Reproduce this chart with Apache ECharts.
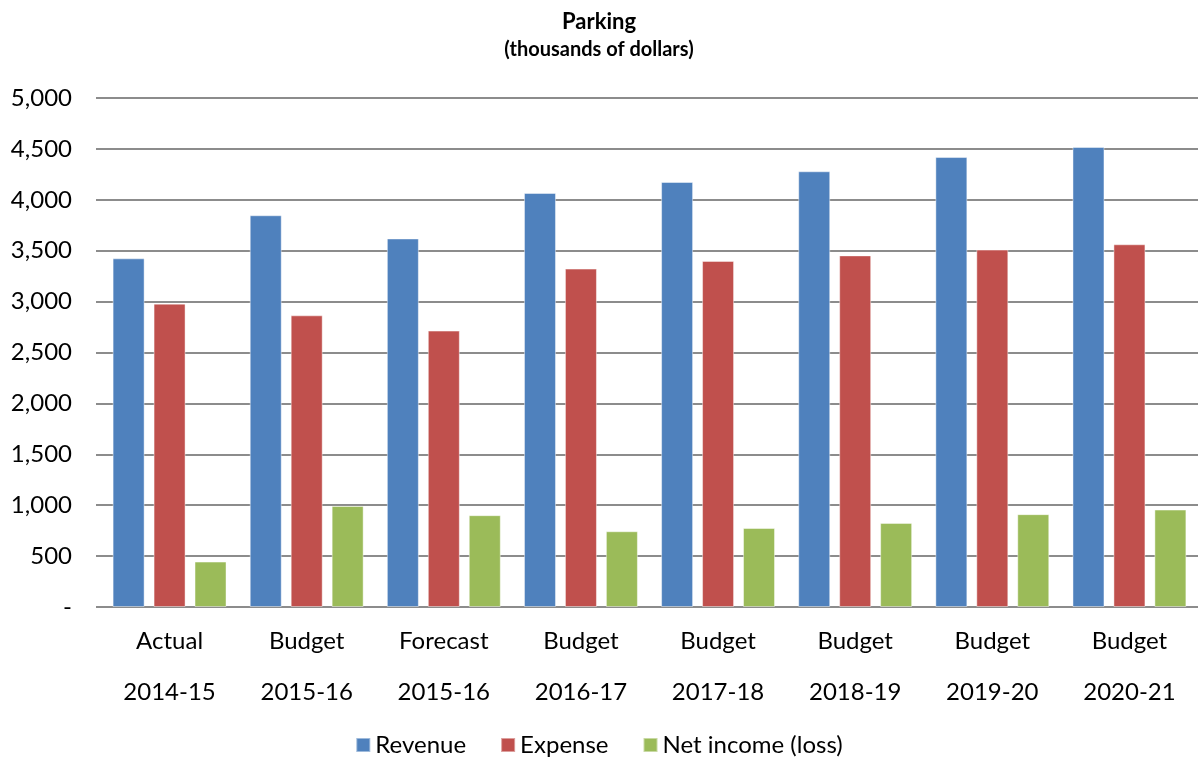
<!doctype html>
<html lang="en">
<head>
	<meta charset="UTF-8">
	<title>Parking</title>
	<style>
		html, body { margin: 0; padding: 0; background: #fff; }
		#chart { width: 1198px; height: 759px; }
	</style>
</head>
<body>
<div id="chart"></div>
<script src="https://cdn.jsdelivr.net/npm/echarts@6/dist/echarts.min.js"></script>
<script>
	// data (thousands of dollars)
	var kinds = ['Actual', 'Budget', 'Forecast', 'Budget', 'Budget', 'Budget', 'Budget', 'Budget'];
	var years = ['2014-15', '2015-16', '2015-16', '2016-17', '2017-18', '2018-19', '2019-20', '2020-21'];
	var revenue = [3425, 3848, 3620, 4067, 4175, 4280, 4420, 4519];
	var expense = [2980, 2865, 2715, 3324, 3400, 3454, 3511, 3563];
	var netIncome = [446, 993, 902, 744, 776, 826, 912, 957];
	var seriesNames = ['Revenue', 'Expense', 'Net income (loss)'];
	var colors = ['#4F81BD', '#C0504D', '#9BBB59'];

	var categories = kinds.map(function (k, i) { return k + '\n' + years[i]; });
	var font = 'Lato, "Open Sans", sans-serif';

	function bar(name, data, color) {
		return {
			name: name,
			type: 'bar',
			data: data,
			barWidth: 32,
			barGap: '28%',
			itemStyle: { color: color, borderColor: 'rgba(255,255,255,0.45)', borderWidth: 1 }
		};
	}

	var myChart = echarts.init(document.getElementById('chart'));
	var option = {
		animation: false,
		textStyle: { fontFamily: font },
		title: {
			text: 'Parking',
			subtext: '(thousands of dollars)',
			left: 'center',
			top: 6,
			itemGap: 7,
			textStyle: { fontFamily: font, fontSize: 22, fontWeight: 'bold', color: '#000' },
			subtextStyle: { fontFamily: font, fontSize: 20, fontWeight: 'bold', color: '#000' }
		},
		legend: {
			data: seriesNames,
			bottom: -3,
			left: 'center',
			itemWidth: 14,
			itemHeight: 14,
			itemGap: 34,
			icon: 'rect',
			textStyle: { fontFamily: font, fontSize: 24, color: '#000' }
		},
		grid: { left: 101, right: 0, top: 98, bottom: 152, containLabel: false },
		xAxis: {
			type: 'category',
			data: categories,
			axisLine: { show: true, lineStyle: { color: '#8c8c8c', width: 2 } },
			axisTick: { show: false },
			axisLabel: { fontFamily: font, fontSize: 24, color: '#000', lineHeight: 51, margin: 9 }
		},
		yAxis: {
			type: 'value',
			min: 0,
			max: 5000,
			interval: 500,
			axisLine: { show: false },
			axisTick: { show: true, length: 5, lineStyle: { color: '#8c8c8c', width: 2 } },
			splitLine: { lineStyle: { color: '#8c8c8c', width: 2 } },
			axisLabel: {
				fontFamily: font, fontSize: 24, color: '#000', margin: 29,
				formatter: function (v) { return v === 0 ? '-' : v.toLocaleString('en-US'); }
			}
		},
		series: [
			bar(seriesNames[0], revenue, colors[0]),
			bar(seriesNames[1], expense, colors[1]),
			bar(seriesNames[2], netIncome, colors[2])
		]
	};
	myChart.setOption(option);
</script>
</body>
</html>
